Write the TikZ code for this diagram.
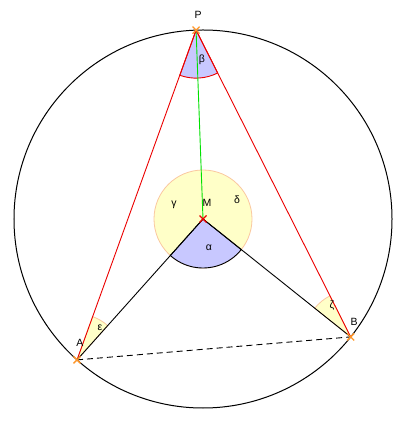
\documentclass[tikz,border=0pt]{standalone}
\usepackage{fontspec}
\setmainfont{Liberation Sans}
\definecolor{anglefill}{RGB}{255,255,200}
\definecolor{angleedge}{RGB}{250,200,160}
\definecolor{centralfill}{RGB}{200,200,255}
\definecolor{pointcol}{RGB}{255,150,40}
\definecolor{radiuscol}{RGB}{0,225,0}
\definecolor{chordcol}{RGB}{235,0,0}
\begin{document}
\begin{tikzpicture}[x=1pt,y=1pt,font=\fontsize{10.5}{12}\selectfont,
  lbl/.style={inner sep=0pt},
  cross/.style={pointcol,line width=1.3pt}]
\useasboundingbox (-203,-208) rectangle (204,219);
\coordinate (M) at (0,0);
\coordinate (P) at (92.1:189);
\coordinate (A) at (228.2:189);
\coordinate (B) at (321.4:189);
\draw[line width=1pt] (M) circle (189);
% angles
\filldraw[fill=anglefill,draw=angleedge,line width=0.8pt] (M) circle (49);
\filldraw[fill=centralfill,draw=black,line width=0.9pt] (M) -- ++(228.2:49) arc[start angle=228.2,end angle=321.4,radius=49] -- cycle;
\filldraw[fill=anglefill,draw=angleedge,line width=0.8pt] (A) -- ++(48.2:46) arc[start angle=48.2,end angle=70.2,radius=46] -- cycle;
\filldraw[fill=anglefill,draw=angleedge,line width=0.8pt] (B) -- ++(116.8:46) arc[start angle=116.8,end angle=141.4,radius=46] -- cycle;
\filldraw[fill=centralfill,draw=chordcol,line width=0.9pt] (P) -- ++(250.2:48) arc[start angle=250.2,end angle=296.8,radius=48] -- cycle;
% lines
\draw[radiuscol,line width=0.9pt] (P) -- (M);
\draw[chordcol,line width=0.9pt] (A) -- (P) -- (B);
\draw[line width=0.9pt] (A) -- (M) -- (B);
\draw[dash pattern=on 6pt off 4pt,line width=0.9pt] (A) -- (B);
% points
\foreach \p in {P,A,B}
  \draw[cross] (\p) +(-3.5,-3.5) -- +(3.5,3.5) +(-3.5,3.5) -- +(3.5,-3.5);
\draw[cross,chordcol] (M) +(-3.5,-3.5) -- +(3.5,3.5) +(-3.5,3.5) -- +(3.5,-3.5);
% labels
\node[lbl] (lP) at (-5,204) {P};
\node[lbl] (lM) at (4,16) {M};
\node[lbl] (lA) at (-123,-124) {A};
\node[lbl] (lB) at (151,-103) {B};
\node[lbl] (lbeta) at (-1,159) {β};
\node[lbl] (lgamma) at (-29,14) {γ};
\node[lbl] (ldelta) at (34,19) {δ};
\node[lbl] (lalpha) at (6,-29) {α};
\node[lbl] (leps) at (-103,-109) {ε};
\node[lbl] (lzeta) at (129,-87) {ζ};
\end{tikzpicture}
\end{document}
